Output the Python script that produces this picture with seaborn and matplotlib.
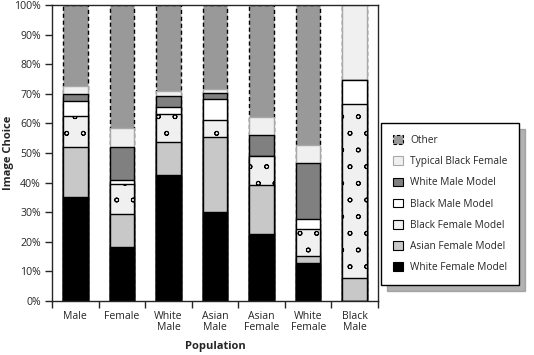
import numpy as np
import matplotlib.pyplot as plt
import matplotlib.hatch
from matplotlib.patches import Patch
import seaborn as sns

populations = ["Male", "Female", "White\nMale", "Asian\nMale",
               "Asian\nFemale", "White\nFemale", "Black\nMale"]

# percentages, bottom of the stack first
white_female = [35.0, 18.3, 42.7, 30.2, 22.7, 12.7, 0.0]
asian_female = [17.0, 11.2, 11.0, 25.2, 16.4, 2.5, 7.9]
black_female = [10.5, 10.1, 9.5, 5.7, 9.9, 9.0, 58.5]
black_male = [5.0, 1.3, 2.3, 7.1, 0.0, 3.6, 8.2]
white_male = [2.3, 11.1, 3.6, 2.2, 7.0, 18.7, 0.0]
typical_black_female = [2.7, 6.3, 2.0, 1.2, 6.1, 6.2, 25.4]
other = [27.5, 41.7, 28.9, 28.4, 37.9, 47.3, 0.0]

sns.set_style("ticks")
plt.rcParams['font.family'] = ['Open Sans', 'DejaVu Sans']
plt.rcParams['font.size'] = 7.6
plt.rcParams['hatch.linewidth'] = 0.7
plt.rcParams['hatch.color'] = 'black'
# smaller dots for the "o" hatch
matplotlib.hatch.SmallCircles.size = 0.12

# name, values, face, edge, linestyle, hatch
layers = [
    ("White Female Model", white_female, "black", "black", "-", None),
    ("Asian Female Model", asian_female, "#c8c8c8", "black", "-", None),
    ("Black Female Model", black_female, "#f0f0f0", "black", "-", "o"),
    ("Black Male Model", black_male, "white", "black", "-", None),
    ("White Male Model", white_male, "#808080", "black", "-", None),
    ("Typical Black Female", typical_black_female, "#f0f0f0", "#a8a8a8", "-", None),
    ("Other", other, "#999999", "black", (0, (3, 2)), None),
]

fig = plt.figure(figsize=(5.34, 3.55), dpi=100)
ax = fig.add_axes([52 / 534, 1 - 301 / 355, 326 / 534, 296 / 355])

tops = np.cumsum([l[1] for l in layers], axis=0)
# draw tallest first so the lower segments sit on top
for (name, vals, fc, ec, ls, hatch), top in reversed(list(zip(layers, tops))):
    sns.barplot(x=populations, y=top, color=fc, edgecolor=ec, linestyle=ls,
                hatch=hatch, linewidth=1.0, width=0.53, saturation=1,
                errorbar=None, ax=ax)

ax.set_xlim(-0.5, len(populations) - 0.5)
ax.set_ylim(0, 100)
ax.set_yticks(np.arange(0, 101, 10))
ax.set_yticklabels([f"{v}%" for v in range(0, 101, 10)])
ax.set_xticks(np.arange(-0.5, len(populations), 1))
ax.set_xticklabels([])
ax.set_xticks(np.arange(len(populations)), minor=True)
ax.set_xticklabels(populations, minor=True, linespacing=1.0)
ax.tick_params(axis="x", which="major", length=5, width=1)
ax.tick_params(axis="x", which="minor", length=0, pad=7)
ax.tick_params(axis="y", length=5, width=1, pad=3)
for s in ax.spines.values():
    s.set_linewidth(1.0)
    s.set_visible(True)

ax.set_xlabel("Population", fontweight="bold", fontsize=8, labelpad=6)
ax.set_ylabel("Image Choice", fontweight="bold", fontsize=8)
ax.yaxis.set_label_coords(-0.118, 0.5)

handles = [Patch(facecolor=fc, edgecolor=ec, linestyle=ls, hatch=h, linewidth=0.8, label=name)
           for name, vals, fc, ec, ls, h in reversed(layers)]
fig.legend(handles=handles, loc="upper left", bbox_to_anchor=(381 / 534, 1 - 123 / 355),
           frameon=True, fancybox=False, edgecolor="black", framealpha=1,
           shadow={"ox": 4, "oy": -4, "color": "0.5", "alpha": 0.6},
           borderpad=1.2, labelspacing=1.0, handlelength=0.95, handleheight=0.95,
           handletextpad=0.7, borderaxespad=0, fontsize=7.3)
fig.legends[0].get_frame().set_linewidth(1.0)

fig.savefig("out.png", dpi=100)
